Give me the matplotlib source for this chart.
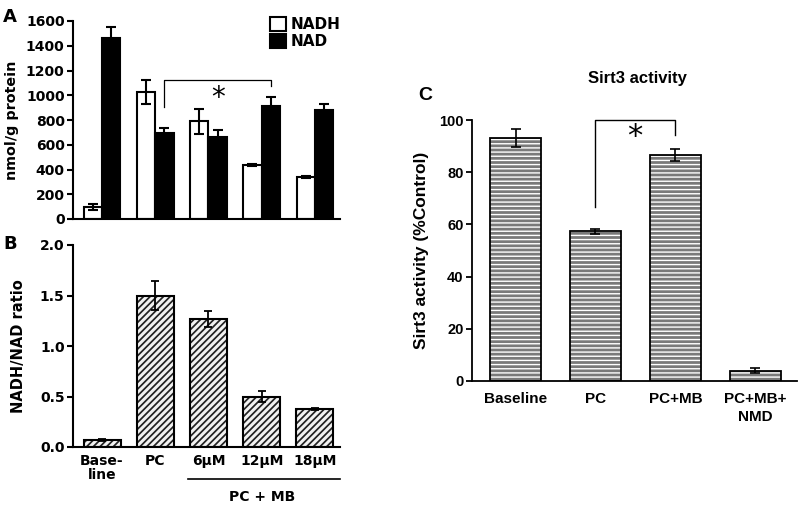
import matplotlib
matplotlib.use("Agg")
import matplotlib.pyplot as plt
import matplotlib.transforms as mtransforms
from matplotlib.patches import Patch
import numpy as np

# ---------------- data ----------------
groups_a = ["Baseline", "PC", "6µM", "12µM", "18µM"]
nadh = [95, 1025, 790, 435, 340]
nadh_err = [25, 95, 100, 8, 10]
nad = [1460, 695, 660, 910, 880]
nad_err = [95, 40, 60, 75, 50]

labels_b = ["Base-\nline", "PC", "6μM", "12μM", "18μM"]
ratio = [0.07, 1.50, 1.27, 0.50, 0.38]
ratio_err = [0.01, 0.14, 0.08, 0.05, 0.01]

labels_c = ["Baseline", "PC", "PC+MB", "PC+MB+\nNMD"]
sirt3 = [93, 57.3, 86.5, 4.0]
sirt3_err = [3.5, 0.8, 2.3, 0.8]

W, H = 798, 508
fig = plt.figure(figsize=(W / 100, H / 100), dpi=100)

FA = "DejaVu Sans"
FC = "Liberation Sans"

def px_axes(l, r, t, b):
    return fig.add_axes([l / W, 1 - b / H, (r - l) / W, (b - t) / H])

def style(ax, lw=1.5):
    for s in ["top", "right"]:
        ax.spines[s].set_visible(False)
    for s in ["left", "bottom"]:
        ax.spines[s].set_linewidth(lw)

# ---------------- Panel A ----------------
axA = px_axes(73, 340, 21, 219)
style(axA)
x = np.arange(len(groups_a))
bw = 0.347
axA.bar(x - bw / 2, nadh, bw, color="white", edgecolor="black", linewidth=1.5, label="NADH", zorder=2)
axA.bar(x + bw / 2, nad, bw, color="black", edgecolor="black", linewidth=1.5, label="NAD", zorder=2)
axA.errorbar(x - bw / 2, nadh, yerr=nadh_err, fmt="none", ecolor="black", elinewidth=1.5, capsize=3.5, capthick=1.5, zorder=3)
axA.errorbar(x + bw / 2, nad, yerr=nad_err, fmt="none", ecolor="black", elinewidth=1.5, capsize=3.5, capthick=1.5, zorder=3)
axA.set_xlim(-0.545, 4.47)
axA.set_ylim(0, 1600)
axA.set_yticks(np.arange(0, 1601, 200))
axA.set_xticks([])
axA.tick_params(axis="y", length=4, width=1.5, labelsize=10, pad=2)
for t in axA.get_yticklabels():
    t.set_fontfamily(FA); t.set_fontweight("bold")
axA.set_ylabel("nmol/g protein", fontsize=10.3, fontweight="bold", family=FA, labelpad=5)
# bracket
xl, xr = 1 + bw / 2, 3 + bw / 2
axA.plot([xl, xl, xr, xr], [905, 1123, 1123, 1075], color="black", lw=0.9, zorder=4)
axA.text(2.18, 975, "*", ha="center", va="center", fontsize=20, family=FA)
handles = [Patch(facecolor="white", edgecolor="black", linewidth=1.5),
           Patch(facecolor="black", edgecolor="black", linewidth=1.5)]
axA.legend(handles, ["NADH", "NAD"], loc="upper right", frameon=False,
           prop={"family": FA, "weight": "bold", "size": 11},
           handlelength=1.0, handleheight=1.0, handletextpad=0.3,
           labelspacing=0.12, borderaxespad=0.0, borderpad=0.0,
           bbox_to_anchor=(1.0, 1.02))
fig.text(3 / W, 1 - 17 / H, "A", fontsize=13, fontweight="bold", family=FA, va="center", ha="left")

# ---------------- Panel B ----------------
axB = px_axes(73, 340, 245, 447)
style(axB)
bw2 = 0.695
with plt.rc_context({"hatch.linewidth": 1.25}):
    axB.bar(x, ratio, bw2, color="#f2f2f2", edgecolor="#222222", linewidth=0, hatch="/////", zorder=2)
axB.bar(x, ratio, bw2, fill=False, edgecolor="black", linewidth=1.5, zorder=3)
axB.errorbar(x, ratio, yerr=ratio_err, fmt="none", ecolor="black", elinewidth=1.3, capsize=3, capthick=1.3, zorder=4)
axB.set_xlim(-0.545, 4.47)
axB.set_ylim(0, 2.0)
axB.set_yticks([0.0, 0.5, 1.0, 1.5, 2.0])
axB.set_yticklabels(["0.0", "0.5", "1.0", "1.5", "2.0"])
axB.set_xticks(x)
axB.set_xticklabels(labels_b)
axB.tick_params(axis="y", length=4, width=1.5, labelsize=10, pad=2)
axB.tick_params(axis="x", length=0, labelsize=10, pad=5)
for t in axB.get_yticklabels() + axB.get_xticklabels():
    t.set_fontfamily(FA); t.set_fontweight("bold")
for t in axB.get_xticklabels():
    t.set_linespacing(1.0)
axB.set_ylabel("NADH/NAD ratio", fontsize=10.5, fontweight="bold", family=FA, labelpad=10)
trB = mtransforms.blended_transform_factory(axB.transData, axB.transAxes)
axB.plot([1.615, 4.47], [-0.158, -0.158], color="black", lw=1.2, transform=trB, clip_on=False)
axB.text(3.0, -0.248, "PC + MB", transform=trB, ha="center", va="center",
         fontsize=10, fontweight="bold", family=FA)
fig.text(3 / W, 1 - 244 / H, "B", fontsize=13, fontweight="bold", family=FA, va="center", ha="left")

# ---------------- Panel C ----------------
axC = px_axes(472, 797, 120, 381)
style(axC, lw=1.3)
xc = np.arange(len(labels_c))
bw3 = 0.64
with plt.rc_context({"hatch.linewidth": 1.0}):
    axC.bar(xc, sirt3, bw3, color="#7a7a7a", edgecolor="white", linewidth=0, hatch="----", zorder=2)
axC.bar(xc, sirt3, bw3, fill=False, edgecolor="black", linewidth=1.3, zorder=3)
axC.errorbar(xc, sirt3, yerr=sirt3_err, fmt="none", ecolor="black", elinewidth=1.2, capsize=3.5, capthick=1.2, zorder=4)
axC.set_xlim(-0.544, 3.52)
axC.set_ylim(0, 100)
axC.set_yticks(np.arange(0, 101, 20))
axC.set_xticks(xc)
axC.set_xticklabels(labels_c)
axC.tick_params(axis="y", length=4, width=1.3, labelsize=10.5, pad=2)
axC.tick_params(axis="x", length=0, labelsize=11, pad=8)
for t in axC.get_yticklabels() + axC.get_xticklabels():
    t.set_fontfamily(FC); t.set_fontweight("bold")
for t in axC.get_xticklabels():
    t.set_linespacing(1.35)
axC.set_ylabel("Sirt3 activity (%Control)", fontsize=12.5, fontweight="bold", family=FC, labelpad=7)
axC.plot([1, 1, 2, 2], [66.7, 100, 100, 94.3], color="black", lw=1.0, clip_on=False, zorder=5)
axC.text(1.49, 93.8, "*", ha="center", va="center", fontsize=22, family=FA)
fig.text(637 / W, 1 - 79 / H, "Sirt3 activity", fontsize=12, fontweight="bold", family=FC, ha="center", va="center")
fig.text(425 / W, 1 - 95 / H, "C", fontsize=14, fontweight="bold", family=FC, ha="center", va="center")

fig.savefig("out.png", dpi=100)
